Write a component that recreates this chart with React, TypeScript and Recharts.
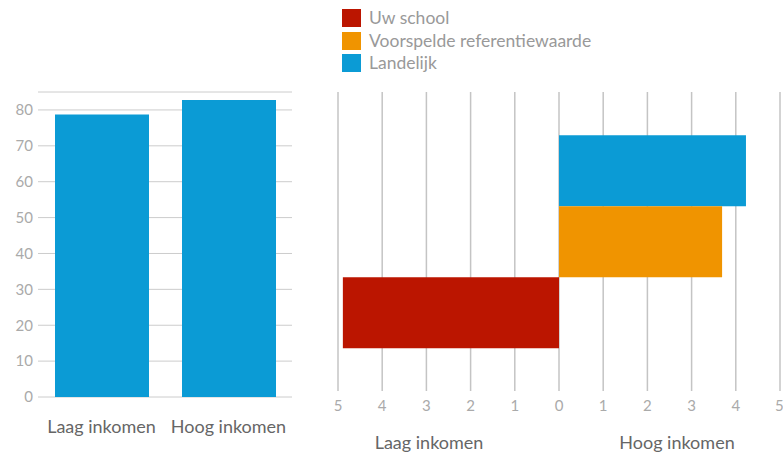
import React from 'react';
import {
  BarChart,
  Bar,
  XAxis,
  YAxis,
  CartesianGrid,
} from 'recharts';

// left chart: national percentage per income group
const INCOME_GROUPS = ['Laag inkomen', 'Hoog inkomen'];
const NATIONAL_PCT = [78.7, 82.8];
const PCT_TICKS = [0, 10, 20, 30, 40, 50, 60, 70, 80];

// right chart: difference high vs low income
const DIFF_SERIES = ['landelijk', 'voorspeld', 'school'];
const DIFF_NAMES = ['Landelijk', 'Voorspelde referentiewaarde', 'Uw school'];
const DIFF_VALUES = [4.23, 3.69, -4.89];
const DIFF_TICKS = [-5, -4, -3, -2, -1, 0, 1, 2, 3, 4, 5];

const COLORS: Record<string, string> = {
  school: '#bb1500',
  voorspeld: '#f09400',
  landelijk: '#0b9bd5',
};

const LEGEND_ORDER = ['school', 'voorspeld', 'landelijk'];

const FONT = 'Lato, "Noto Sans", sans-serif';

const leftData = INCOME_GROUPS.map((name, i) => ({ name, value: NATIONAL_PCT[i] }));

const rightData = [
  DIFF_SERIES.reduce(
    (row, key, i) => ({ ...row, [key]: DIFF_VALUES[i] }),
    { name: 'verschil' } as Record<string, number | string>
  ),
];

const Legend = () => (
  <div style={{ position: 'absolute', left: 342, top: 7, fontFamily: FONT }}>
    {LEGEND_ORDER.map((key) => (
      <div key={key} style={{ display: 'flex', alignItems: 'center', height: 22.5 }}>
        <span style={{ width: 19, height: 18, background: COLORS[key], display: 'inline-block' }} />
        <span style={{ marginLeft: 8, fontSize: 17.5, color: '#999', lineHeight: '18px' }}>
          {DIFF_NAMES[DIFF_SERIES.indexOf(key)]}
        </span>
      </div>
    ))}
  </div>
);

const groupLabel = (text: string, x: number) => (
  <div
    style={{
      position: 'absolute',
      left: x,
      top: 431,
      transform: 'translateX(-50%)',
      fontFamily: FONT,
      fontSize: 18,
      color: '#666',
      whiteSpace: 'nowrap',
    }}
  >
    {text}
  </div>
);

export default function App() {
  return (
    <div style={{ position: 'absolute', left: 0, top: 0, width: 783, height: 455, background: '#fff', fontFamily: FONT }}>
      <div style={{ position: 'absolute', left: 0, top: 0 }}>
        <BarChart width={300} height={455} data={leftData} margin={{ top: 92, right: 8, bottom: 28, left: 0 }}>
          <CartesianGrid vertical={false} stroke="#cccccc" />
          <XAxis
            dataKey="name"
            axisLine={false}
            tickLine={false}
            tickSize={0}
            tickMargin={23}
            interval={0}
            tick={{ fill: '#666', fontSize: 18, fontFamily: FONT }}
          />
          <YAxis
            type="number"
            domain={[0, 85]}
            ticks={PCT_TICKS}
            width={38}
            axisLine={false}
            tickLine={false}
            tickSize={0}
            tickMargin={5}
            tick={{ fill: '#aaa', fontSize: 15, fontFamily: FONT }}
          />
          <Bar dataKey="value" fill={COLORS.landelijk} barSize={94} isAnimationActive={false} />
        </BarChart>
      </div>

      <div style={{ position: 'absolute', left: 300, top: 0 }}>
        <BarChart
          width={483}
          height={455}
          data={rightData}
          layout="vertical"
          margin={{ top: 92, right: 3, bottom: 34, left: 38 }}
          barCategoryGap="14.5%"
          barGap={0}
        >
          <CartesianGrid horizontal={false} stroke="#c4c4c4" strokeWidth={1.5} />
          <XAxis
            type="number"
            domain={[-5, 5]}
            ticks={DIFF_TICKS}
            axisLine={false}
            tickLine={false}
            tickSize={0}
            tickMargin={9}
            tickFormatter={(v: number) => String(Math.abs(v))}
            tick={{ fill: '#aaa', fontSize: 15, fontFamily: FONT }}
          />
          <YAxis type="category" dataKey="name" hide />
          {DIFF_SERIES.map((key) => (
            <Bar key={key} dataKey={key} fill={COLORS[key]} isAnimationActive={false} />
          ))}
        </BarChart>
      </div>

      <Legend />
      {groupLabel('Laag inkomen', 429)}
      {groupLabel('Hoog inkomen', 677)}
    </div>
  );
}
